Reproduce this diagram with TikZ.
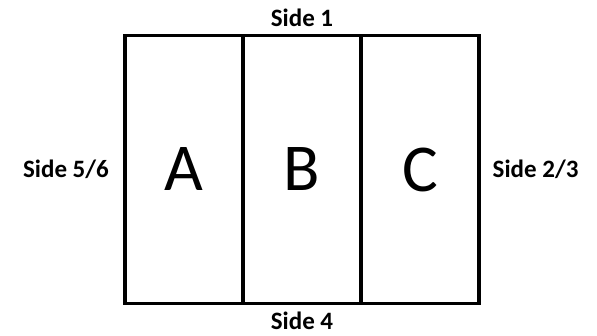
\documentclass[tikz,border=0pt]{standalone}
\usepackage{fontspec}
\setmainfont{Carlito}
\usetikzlibrary{positioning}
\tikzset{
  panel/.style={draw,line width=3.2pt,outer sep=0pt,minimum width=118pt,minimum height=268pt,inner sep=0pt,font=\fontsize{67}{67}\selectfont},
  side/.style={font=\bfseries\fontsize{25}{25}\selectfont,inner sep=0pt}}
\begin{document}
\begin{tikzpicture}[x=1pt,y=1pt]
\useasboundingbox (0,0) rectangle (597,335);
\node[panel] (pa) at (184,165.5) {A};
\node[panel,right=0pt of pa] (pb) {B};
\node[panel,right=0pt of pb] (pc) {C};
\node[side,above=9pt of pb] (s1) {Side 1};
\node[side,below=8pt of pb] (s4) {Side 4};
\node[side,left=16pt of pa] (s56) {Side 5/6};
\node[side,right=13.5pt of pc] (s23) {Side 2/3};
\end{tikzpicture}
\end{document}
